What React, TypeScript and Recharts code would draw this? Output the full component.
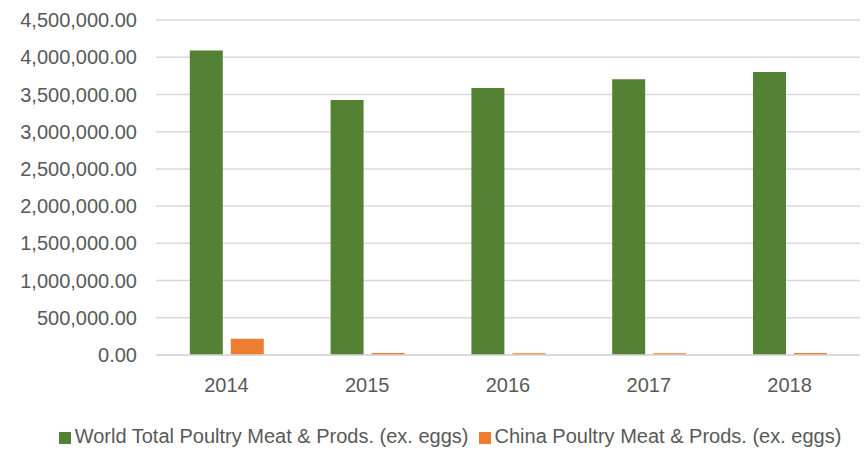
import { Bar, BarChart, CartesianGrid, Legend, XAxis, YAxis } from "recharts";

const years = ["2014", "2015", "2016", "2017", "2018"];
const worldTotal = [4090000, 3425000, 3585000, 3705000, 3800000];
const chinaTotal = [218000, 26000, 25000, 25000, 26000];
const yTicks = [0, 500000, 1000000, 1500000, 2000000, 2500000, 3000000, 3500000, 4000000, 4500000];
const seriesOrder = ["world", "china"];

const data = years.map((year, i) => ({
  year,
  world: worldTotal[i],
  china: chinaTotal[i],
}));

const font = "'Liberation Sans', Arial, sans-serif";
const textColor = "#595959";

const formatTick = (v: number) =>
  v.toLocaleString("en-US", { minimumFractionDigits: 2, maximumFractionDigits: 2 });

export default function App() {
  return (
    <div style={{ position: "absolute", left: 0, top: 0, width: 867, height: 450, background: "#fff", fontFamily: font }}>
      <BarChart
        width={867}
        height={450}
        data={data}
        margin={{ top: 20, right: 7, left: 0, bottom: 0 }}
        barCategoryGap="24%"
        barGap={8}
      >
        <CartesianGrid vertical={false} stroke="#d9d9d9" strokeWidth={1.5} />
        <XAxis
          dataKey="year"
          axisLine={{ stroke: "#d9d9d9", strokeWidth: 1.5 }}
          tickLine={false}
          tickSize={0}
          tickMargin={23}
          height={50}
          tick={{ fill: textColor, fontSize: 20, fontFamily: font }}
        />
        <YAxis
          domain={[0, 4500000]}
          ticks={yTicks}
          interval={0}
          axisLine={false}
          tickLine={false}
          tickSize={0}
          tickMargin={19}
          width={156}
          tickFormatter={formatTick}
          tick={{ fill: textColor, fontSize: 20, fontFamily: font }}
        />
        <Legend
          verticalAlign="bottom"
          height={25}
          iconType="square"
          iconSize={12}
          itemSorter={(item: any) => seriesOrder.indexOf(String(item.dataKey))}
          wrapperStyle={{
            fontSize: 20,
            fontFamily: font,
            color: textColor,
            paddingTop: 20,
            left: 50,
            width: 810,
            whiteSpace: "nowrap",
          }}
          formatter={(value) => <span style={{ color: textColor }}>{value}</span>}
        />
        <Bar
          dataKey="world"
          name="World Total Poultry Meat & Prods. (ex. eggs)"
          fill="#548235"
          isAnimationActive={false}
        />
        <Bar
          dataKey="china"
          name="China Poultry Meat & Prods. (ex. eggs)"
          fill="#ED7D31"
          isAnimationActive={false}
        />
      </BarChart>
    </div>
  );
}
